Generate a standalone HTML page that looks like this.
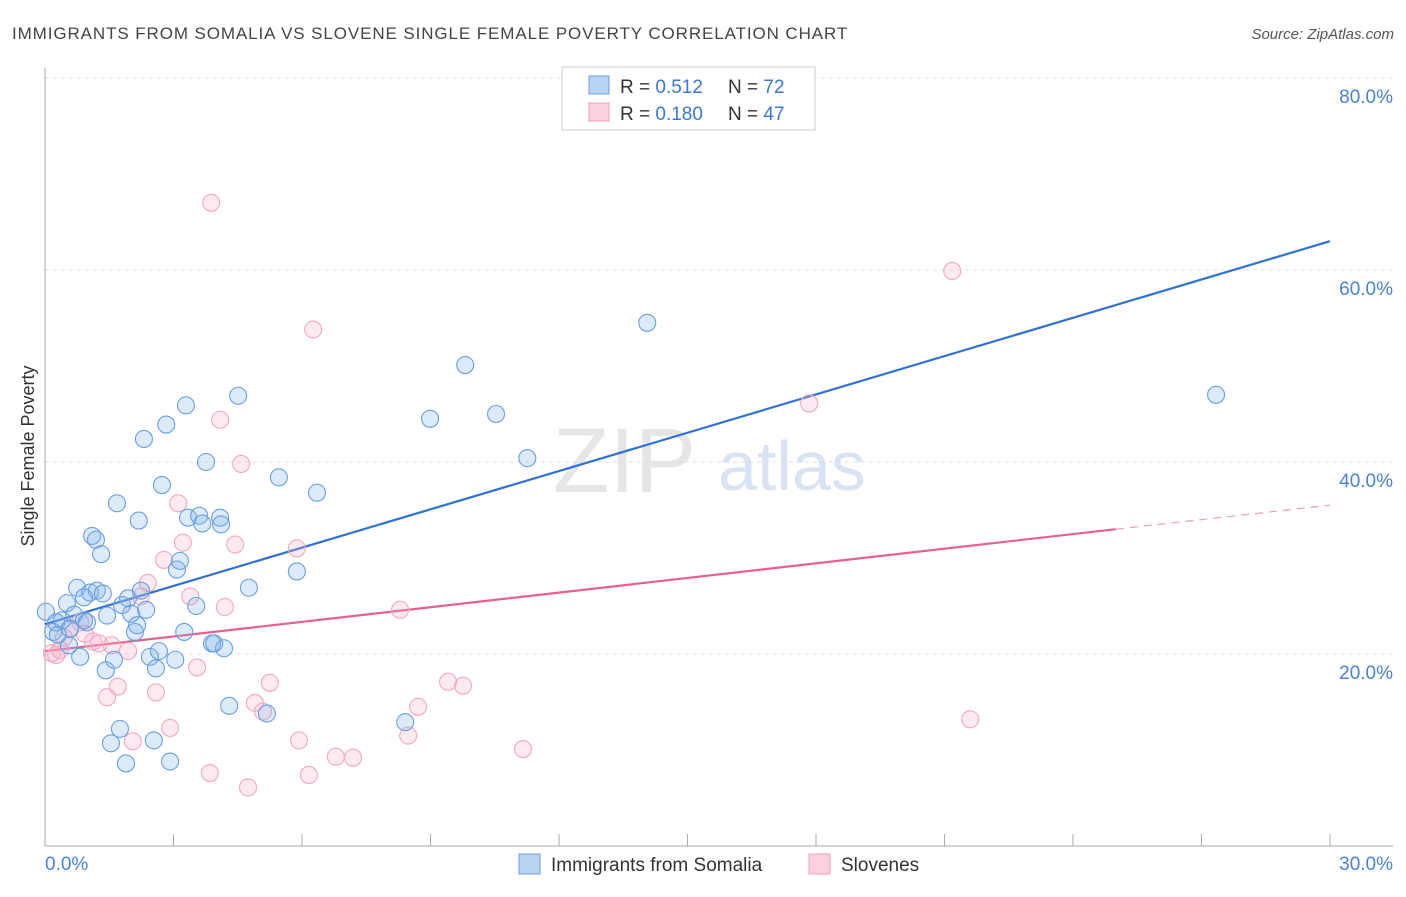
<!DOCTYPE html>
<html><head><meta charset="utf-8"><style>
body{margin:0;background:#fff;font-family:"Liberation Sans",sans-serif}
svg text{font-family:"Liberation Sans",sans-serif}
</style></head><body>
<svg id="chart" width="1406" height="892" xmlns="http://www.w3.org/2000/svg">
<text x="12" y="39" font-size="17" fill="#444" letter-spacing="0.9">IMMIGRANTS FROM SOMALIA VS SLOVENE SINGLE FEMALE POVERTY CORRELATION CHART</text>
<text x="1394" y="39" font-size="15" fill="#555" text-anchor="end" font-style="italic">Source: ZipAtlas.com</text>
<g>
<text x="553" y="492" font-size="92" font-family="Liberation Serif" fill="#e6e6e6">ZIP</text>
<text x="718" y="490" font-size="70" fill="#d8e4f4">atlas</text>
</g>
<g id="grid"></g>
<g id="axes"></g>
<g id="lines"></g>
<g id="pts"></g>
<text transform="translate(34,456) rotate(-90)" font-size="18" fill="#333" text-anchor="middle">Single Female Poverty</text>
<g>
<rect x="562" y="67" width="253" height="63" fill="#fff" stroke="#ccc"/>
<rect x="589" y="76" width="20" height="18" fill="#b9d3f5" stroke="#6a9fe0"/>
<rect x="589" y="103" width="20" height="18" fill="#fcd0dd" stroke="#f0a0b8"/>
<text x="620" y="93" font-size="19" fill="#333">R = <tspan fill="#3a78d8">0.512</tspan></text>
<text x="728" y="93" font-size="19" fill="#333">N = <tspan fill="#3a78d8">72</tspan></text>
<text x="620" y="120" font-size="19" fill="#333">R = <tspan fill="#3a78d8">0.180</tspan></text>
<text x="728" y="120" font-size="19" fill="#333">N = <tspan fill="#3a78d8">47</tspan></text>
</g>
<g>
<rect x="519" y="854" width="21" height="20" fill="#b9d3f5" stroke="#6a9fe0"/>
<text x="551" y="871" font-size="19" fill="#333">Immigrants from Somalia</text>
<rect x="809" y="854" width="21" height="20" fill="#fcd0dd" stroke="#f0a0b8"/>
<text x="841" y="871" font-size="19" fill="#333">Slovenes</text>
</g>
</svg>
<script>
const yTicks=[20,40,60,80];
const xTickLabels=["0.0%","30.0%"];
const blueX=[0.02,0.19,0.26,0.40,0.51,0.56,0.68,0.75,0.82,0.91,0.98,1.05,1.10,1.19,1.21,1.31,1.35,1.42,1.54,1.61,1.68,1.75,1.80,1.89,1.94,2.01,2.10,2.19,2.24,2.31,2.36,2.45,2.54,2.59,2.66,2.73,2.83,2.92,3.04,3.08,3.15,3.25,3.29,3.34,3.53,3.60,3.67,3.76,3.90,3.95,4.09,4.11,4.18,4.30,4.51,4.76,5.18,5.46,5.88,6.35,8.41,8.99,9.81,10.53,11.26,14.06,27.34,0.91,0.58,0.30,1.45,2.15];
const blueY=[24.4,22.3,23.3,23.5,25.3,20.9,24.1,26.9,19.7,23.5,23.3,26.4,32.3,31.9,26.6,30.4,26.3,18.3,10.7,19.4,35.7,12.2,25.1,8.6,25.8,24.2,22.3,33.9,26.6,42.4,24.6,19.7,11.0,18.5,20.3,37.6,43.9,8.8,19.4,28.8,29.7,22.3,45.9,34.2,25.0,34.4,33.6,40.0,21.1,21.1,34.2,33.5,20.6,14.6,46.9,26.9,13.8,38.4,28.6,36.8,12.9,44.5,50.1,45.0,40.4,54.5,47.0,25.9,22.6,22.0,24.0,23.0];
const pinkX=[0.16,0.26,0.35,0.44,0.58,0.82,0.93,1.12,1.26,1.45,1.56,1.70,1.94,2.05,2.24,2.40,2.59,2.78,2.92,3.11,3.22,3.39,3.55,3.85,3.88,4.09,4.20,4.44,4.58,4.74,4.90,5.09,5.25,5.88,5.93,6.16,6.26,6.79,7.19,8.29,8.48,8.71,9.41,9.76,11.16,17.84,21.18,21.60];
const pinkY=[20.1,19.9,20.4,21.7,22.7,23.3,22.1,21.3,21.1,15.5,20.9,16.6,20.3,10.9,26.0,27.4,16.0,29.8,12.3,35.7,31.6,26.0,18.6,7.6,67.0,44.4,24.9,31.4,39.8,6.1,14.9,14.0,17.0,31.0,11.0,7.4,53.8,9.3,9.2,24.6,11.5,14.5,17.1,16.7,10.1,46.1,59.9,13.2];
const blueTrend=[23.1,63.0];
const pinkTrend=[20.3,33.0,35.5];
const NS="http://www.w3.org/2000/svg";
const X=v=>45+v/30*1285, Y=v=>846-v*9.6;
function mk(p,t,a){const e=document.createElementNS(NS,t);for(const k in a)e.setAttribute(k,a[k]);p.appendChild(e);return e;}
const grid=document.getElementById('grid'),axes=document.getElementById('axes');
yTicks.forEach(t=>{
 const l=mk(grid,'line',{x1:45,x2:1393,y1:Y(t),y2:Y(t),stroke:'#ddd','stroke-dasharray':'4,4'});
 
 
 const tx=mk(grid,'text',{x:1393,y:Y(t)+25,'font-size':19,fill:'#4a82d8','text-anchor':'end'});
 tx.textContent=t.toFixed(1)+'%';
 
 
});
mk(axes,'line',{x1:45,x2:45,y1:68,y2:846,stroke:'#aaa'});
mk(axes,'line',{x1:45,x2:1393,y1:846,y2:846,stroke:'#aaa'});
for(let k=0;k<=10;k++){const x=45+k*128.5;const t=mk(axes,'line',{x1:x,x2:x,y1:834,y2:846,stroke:'#aaa'});}
let a=mk(axes,'text',{x:45,y:870,'font-size':19,fill:'#4a82d8'});a.textContent=xTickLabels[0];


a=mk(axes,'text',{x:1393,y:870,'font-size':19,fill:'#4a82d8','text-anchor':'end'});a.textContent=xTickLabels[1];


const pts=document.getElementById('pts');
pinkX.forEach((v,i)=>{const c=mk(pts,'circle',{cx:X(v),cy:Y(pinkY[i]),r:8.5,fill:'rgba(246,170,196,0.25)',stroke:'#f2a8c0','stroke-width':1.1});
 
 });
blueX.forEach((v,i)=>{const c=mk(pts,'circle',{cx:X(v),cy:Y(blueY[i]),r:8.5,fill:'rgba(130,178,235,0.28)',stroke:'#6a9fe0','stroke-width':1.1});
 
 });
const lines=document.getElementById('lines');
let l=mk(lines,'line',{x1:X(0),y1:Y(blueTrend[0]),x2:X(30),y2:Y(blueTrend[1]),stroke:'#2f72d6','stroke-width':2.2});


l=mk(lines,'line',{x1:X(0),y1:Y(pinkTrend[0]),x2:X(25),y2:Y(pinkTrend[1]),stroke:'#e8608e','stroke-width':2.2});


l=mk(lines,'line',{x1:X(25),y1:Y(pinkTrend[1]),x2:X(30),y2:Y(pinkTrend[2]),stroke:'#e8a0b8','stroke-width':1.2,'stroke-dasharray':'8,6'});


</script>
</body></html>
